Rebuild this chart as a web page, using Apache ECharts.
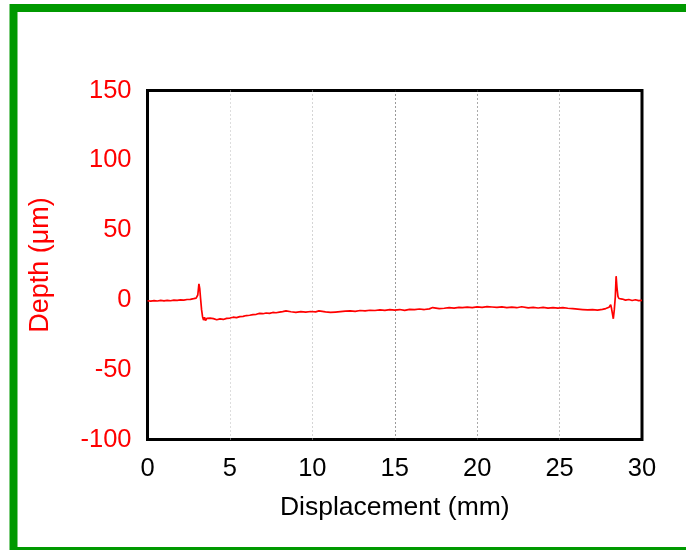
<!DOCTYPE html>
<html>
<head>
<meta charset="utf-8">
<script src="https://cdn.jsdelivr.net/npm/echarts@6/dist/echarts.min.js"></script>
<style>
html,body{margin:0;padding:0;background:#fff;}
#chart{width:686px;height:550px;}
</style>
</head>
<body>
<div id="chart"></div>
<script>
const xLabel = "Displacement (mm)";
const yLabel = "Depth (\u03bcm)";
const displacement = [
0.0,0.2,0.4,0.6,0.8,1.0,1.2,1.4,1.6,1.8,2.0,2.2,2.4,2.6,2.8,2.95,3.05,3.12,3.17,3.22,
3.28,3.34,3.40,3.46,3.52,3.6,3.7,3.8,3.9,4.0,4.2,4.4,4.6,4.8,5.0,5.2,5.4,5.6,5.8,6.0,
6.2,6.4,6.6,6.8,7.0,7.2,7.4,7.6,7.8,8.0,8.2,8.4,8.5,8.7,9.0,9.3,9.6,9.9,10.2,10.4,
10.5,10.8,11.1,11.4,11.7,12.0,12.3,12.6,12.9,13.2,13.5,13.8,14.1,14.4,14.7,15.0,15.3,15.6,15.9,16.2,
16.5,16.8,17.1,17.3,17.4,17.7,18.0,18.3,18.6,18.9,19.0,19.1,19.4,19.7,20.0,20.3,20.6,20.9,21.2,21.5,
21.8,22.1,22.4,22.7,22.8,23.1,23.4,23.7,24.0,24.3,24.6,24.9,25.2,25.5,25.8,26.1,26.4,26.7,27.0,27.3,
27.6,27.8,28.0,28.1,28.15,28.2,28.26,28.32,28.38,28.43,28.48,28.54,28.6,28.7,28.8,29.0,29.2,29.4,29.6,29.8,
30.0
];
const depth = [
-0.6,-0.9,-0.5,-0.8,-0.4,-0.7,-0.3,-0.6,-0.2,-0.4,0.0,-0.2,0.3,0.4,0.9,1.3,3.5,11.5,8.0,1.0,
-7.0,-12.0,-14.5,-12.5,-14.8,-13.2,-13.8,-13.1,-13.9,-13.4,-14.2,-13.6,-14.0,-13.2,-13.0,-12.4,-12.7,-12.0,-11.8,-11.2,
-11.0,-10.5,-10.3,-9.7,-9.9,-9.4,-9.6,-9.0,-9.2,-8.8,-8.4,-7.9,-8.7,-8.5,-8.9,-8.4,-8.8,-8.3,-8.6,-7.9,
-8.9,-8.6,-9.0,-8.7,-8.4,-8.1,-7.8,-8.2,-7.6,-7.9,-7.4,-7.6,-7.2,-7.5,-7.0,-7.3,-6.9,-7.5,-6.8,-7.0,
-6.5,-6.9,-6.4,-5.5,-6.6,-6.2,-6.0,-5.6,-5.9,-5.3,-4.6,-5.6,-5.2,-5.5,-5.0,-5.3,-4.8,-5.1,-5.4,-5.0,
-5.5,-5.2,-5.6,-4.9,-5.4,-5.7,-5.3,-5.8,-5.4,-5.9,-5.5,-5.9,-5.6,-6.0,-6.3,-6.6,-6.9,-7.2,-7.0,-7.3,
-6.8,-6.2,-5.2,-3.5,-6.0,-9.5,-13.5,-7.0,2.0,17.0,9.0,2.5,1.0,0.2,0.6,-0.2,0.3,-0.4,0.1,-0.5,
-0.3
];
const xTicks = {min: 0, max: 30, interval: 5};
const yTicks = {min: -100, max: 150, interval: 50};

const seriesData = displacement.map((x, i) => [x, depth[i]]);
const font = 'Liberation Sans, Arial, sans-serif';

const chart = echarts.init(document.getElementById('chart'), null, {renderer: 'canvas'});
chart.setOption({
  animation: false,
  backgroundColor: '#ffffff',
  grid: {
    left: 147.5, top: 90.5, right: 44, bottom: 110.5,
    show: true, borderColor: '#000', borderWidth: 3, backgroundColor: 'transparent'
  },
  graphic: [{
    type: 'rect', silent: true, z: 100,
    shape: {x: 13.5, y: 8, width: 700, height: 543},
    style: {fill: 'none', stroke: '#009900', lineWidth: 8}
  }],
  xAxis: {
    type: 'value', min: xTicks.min, max: xTicks.max, interval: xTicks.interval,
    name: xLabel, nameLocation: 'middle', nameGap: 55,
    nameTextStyle: {color: '#000', fontSize: 26.5, fontFamily: font},
    axisLine: {show: false, onZero: false},
    axisTick: {show: false},
    axisLabel: {color: '#000', fontSize: 25.5, fontFamily: font, margin: 16},
    splitLine: {show: true, lineStyle: {color: ['#000', '#bbb', '#aaa', '#333', '#555', '#888', '#000'], type: [1, 3], width: 1}}
  },
  yAxis: {
    type: 'value', min: yTicks.min, max: yTicks.max, interval: yTicks.interval,
    name: yLabel, nameLocation: 'middle', nameGap: 93, nameRotate: 90,
    nameTextStyle: {color: '#ff0000', fontSize: 27, fontFamily: font},
    axisLine: {show: false, onZero: false},
    axisTick: {show: false},
    axisLabel: {color: '#ff0000', fontSize: 25.5, fontFamily: font, margin: 16},
    splitLine: {show: false}
  },
  series: [{
    type: 'line', data: seriesData, showSymbol: false, symbol: 'none',
    lineStyle: {color: '#ff0000', width: 1.7}, z: 5
  }]
});
</script>
</body>
</html>
